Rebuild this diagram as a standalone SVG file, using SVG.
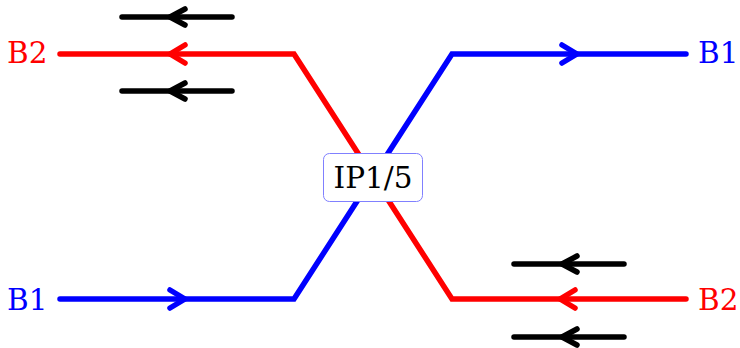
<svg xmlns="http://www.w3.org/2000/svg" width="740" height="348" viewBox="0 0 740 348">
<style>
.ln{fill:none;stroke-width:5.5;stroke-linecap:round;stroke-linejoin:miter}
.ah{fill:none;stroke-width:5.5;stroke-linecap:round;stroke-linejoin:round}
.red{stroke:#ff0000}
.blue{stroke:#0000ff}
.blk{stroke:#000000}
.lbl{font-family:"DejaVu Serif","Liberation Serif",serif;font-size:29.5px}
</style>
<rect width="740" height="348" fill="#ffffff"/>
<g id="connectors">
<path class="ln red" d="M60,54 H294 L452,299 H686"/>
<path class="ln blue" d="M60,299 H294 L452,54 H686"/>
<path class="ah red" d="M185,45 L170,54 L185,63"/>
<path class="ah red" d="M575,290 L560,299 L575,308"/>
<path class="ah blue" d="M170,290 L185,299 L170,308"/>
<path class="ah blue" d="M562,45 L577,54 L562,63"/>
<path class="ln blk" d="M122,17 H232"/>
<path class="ah blk" d="M185,9 L170,17 L185,25"/>
<path class="ln blk" d="M122,91 H232"/>
<path class="ah blk" d="M185,83 L170,91 L185,99"/>
<path class="ln blk" d="M514,264 H624"/>
<path class="ah blk" d="M577,256 L562,264 L577,272"/>
<path class="ln blk" d="M514,337 H624"/>
<path class="ah blk" d="M577,329 L562,337 L577,345"/>
</g>
<g id="label-B2-left"><text class="lbl" x="7" y="63" fill="#ff0000">B2</text></g>
<g id="label-B1-left"><text class="lbl" x="7" y="310" fill="#0000ff">B1</text></g>
<g id="label-B1-right"><text class="lbl" x="698" y="63" fill="#0000ff">B1</text></g>
<g id="label-B2-right"><text class="lbl" x="698" y="310" fill="#ff0000">B2</text></g>
<g id="IP">
<rect x="323.5" y="153.5" width="99" height="48" rx="6" fill="#ffffff" stroke="#8080ff" stroke-width="1"/>
<text class="lbl" x="373" y="187.5" text-anchor="middle" fill="#000000">IP1/5</text>
</g>
</svg>
